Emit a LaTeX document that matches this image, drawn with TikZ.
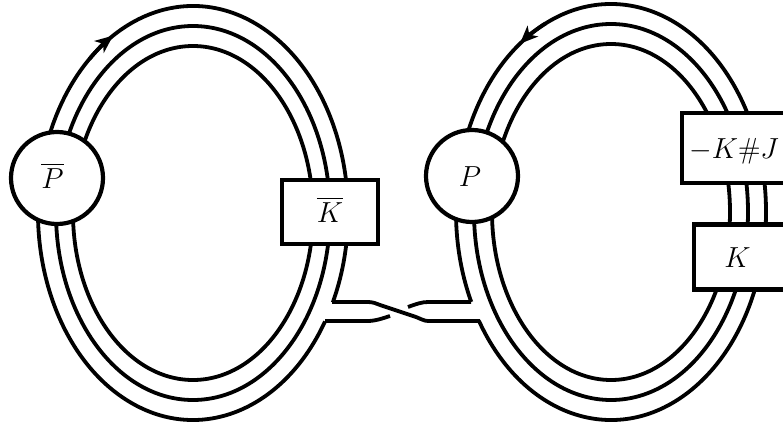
\documentclass[tikz,border=0pt]{standalone}
\usepackage{fix-cm}
\usepackage{amsmath}
\usepackage{amssymb}
\usetikzlibrary{arrows.meta}
\newcommand{\setlabel}[2]{\raisebox{-10pt}[0pt][0pt]{\kern#1\makebox[0pt]{#2}\kern-#1}}
\tikzset{
    strand/.style={line width=3.8pt},
    flow/.style={line width=3.8pt, -{Stealth[length=18pt, width=15pt, inset=5pt]}},
    morphism/.style={draw, line width=4.2pt, fill=white, inner sep=0pt, font=\fontsize{29}{32}\selectfont},
    pair/.style={draw, circle, line width=4.2pt, fill=white, inner sep=0pt, minimum size=92pt, font=\fontsize{29}{32}\selectfont}
}
\begin{document}
\begin{tikzpicture}[x=1pt, y=1pt]
    \clip (0,0) rectangle (783,424);
    % left ring
    \draw[strand] (193,211) ellipse [x radius=137, y radius=187];
    \draw[strand] (193,211) ellipse [x radius=120, y radius=167];
    \draw[strand] (193,211) ++(-25.6:155 and 207) arc [start angle=-25.6, end angle=328.4, x radius=155, y radius=207];
    % right ring
    \draw[strand] (611,212) ellipse [x radius=137, y radius=188];
    \draw[strand] (611,212) ellipse [x radius=119, y radius=168];
    \draw[strand] (611,212) ++(211.6:155 and 208) arc [start angle=211.6, end angle=565.6, x radius=155, y radius=208];
    % arrows on the outer strands
    \draw[flow] (193,211) ++(132:155 and 207) arc [start angle=132, end angle=121, x radius=155, y radius=207];
    \draw[flow] (611,212) ++(115:155 and 208) arc [start angle=115, end angle=126, x radius=155, y radius=208];
    % band with the crossing
    \coordinate (a1) at (332,122);
    \coordinate (a2) at (368,122);
    \coordinate (a3) at (428,103);
    \coordinate (a4) at (480,103);
    \coordinate (b1) at (325,103);
    \coordinate (b2) at (368,103);
    \coordinate (b3) at (390,108);
    \coordinate (c1) at (408,117);
    \coordinate (c2) at (428,122);
    \coordinate (c3) at (471,122);
    \draw[strand] (a1) -- (a2) .. controls (373,122) and (376,120.5) .. (380,119) -- (416,107) .. controls (420,105.5) and (424,103) .. (a3) -- (a4);
    \draw[strand] (b1) -- (b2) .. controls (373,103) and (378,104) .. (b3);
    \draw[strand] (c1) .. controls (416,120) and (422,122) .. (c2) -- (c3);
    % boxes
    \node[pair] (pbar) at (57,246) {\setlabel{-4.5pt}{$\overline{P}$}};
    \node[pair] (p) at (472,248) {\setlabel{-2pt}{$P$}};
    \node[morphism, minimum width=96pt, minimum height=64pt] (kbar) at (330,212) {\setlabel{0pt}{$\overline{K}$}};
    \node[morphism, minimum width=120pt, minimum height=70pt] (kj) at (742,276) {\setlabel{-8pt}{$-K\#J$}};
    \node[morphism, minimum width=100pt, minimum height=65pt] (k) at (744,167) {\setlabel{-6.5pt}{$K$}};
\end{tikzpicture}
\end{document}
